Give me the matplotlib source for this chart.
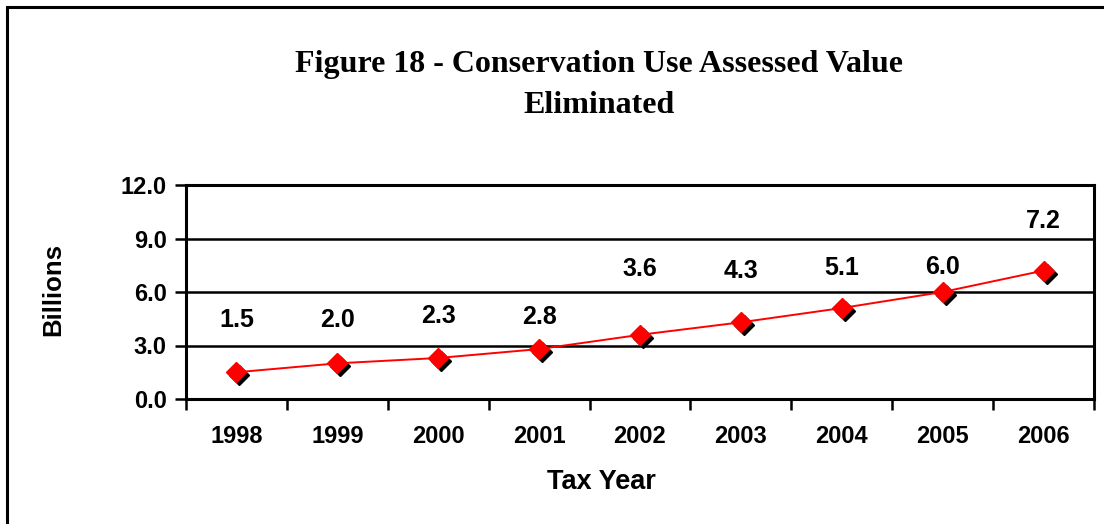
import matplotlib.pyplot as plt
import matplotlib.transforms as mtransforms
from matplotlib.patches import Rectangle

# Figure 18 data
years = ["1998", "1999", "2000", "2001", "2002", "2003", "2004", "2005", "2006"]
values = [1.5, 2.0, 2.3, 2.8, 3.6, 4.3, 5.1, 6.0, 7.2]
# heights (in Billions) at which the value labels sit
label_y = [4.45, 4.45, 4.65, 4.6, 7.3, 7.2, 7.35, 7.4, 10.0]

SANS = "Liberation Sans"
SERIF = "Liberation Serif"

fig = plt.figure(figsize=(11.04, 5.24), dpi=100)
W, H = 1104, 524

# outer chart border (only left/top visible in the picture)
fig.patches.append(Rectangle((7 / W, -0.1), 1.2, (H - 7) / H + 0.1, transform=fig.transFigure,
                             fill=False, edgecolor="black", linewidth=2.2))

ax = fig.add_axes([186 / W, 1 - 399 / H, (1094 - 186) / W, (399 - 185) / H])
x = list(range(len(years)))

# shadow then red diamond on top
shadow = ax.transData + mtransforms.ScaledTranslation(3 / 100, -3 / 100, fig.dpi_scale_trans)
ax.plot(x, values, linestyle="none", marker="D", markersize=10, color="black", transform=shadow, zorder=3)
ax.plot(x, values, color="#ff0000", linewidth=1.4, marker="D", markersize=10,
        markerfacecolor="#ff0000", markeredgecolor="#ff0000", zorder=4)

for xi, v, ly in zip(x, values, label_y):
    ax.text(xi, ly, f"{v:.1f}", ha="center", va="center", fontsize=18,
            fontweight="bold", family=SANS)

ax.set_xlim(-0.5, len(years) - 0.5)
ax.set_ylim(0, 12)
ax.set_yticks([0, 3, 6, 9, 12])
ax.set_yticklabels([f"{t:.1f}" for t in [0, 3, 6, 9, 12]], fontsize=17, fontweight="bold", family=SANS)
ax.yaxis.grid(True, color="black", linewidth=1.8)
ax.set_axisbelow(True)

# category ticks sit between years, labels centred on years
ax.set_xticks([i + 0.5 for i in range(-1, len(years))])
ax.set_xticklabels([])
ax.set_xticks(x, minor=True)
ax.set_xticklabels(years, minor=True, fontsize=17, fontweight="bold", family=SANS)
ax.tick_params(axis="x", which="minor", length=0, pad=19)
ax.tick_params(axis="x", which="major", length=8, width=1.8, direction="out")
ax.tick_params(axis="y", length=8, width=1.8, direction="out", pad=6)

for s in ax.spines.values():
    s.set_linewidth(2.2)

fig.text(601 / W, 1 - 482 / H, "Tax Year", ha="center", va="center",
         fontsize=19.5, fontweight="bold", family=SANS)
fig.text(53 / W, 1 - 290 / H, "Billions", rotation=90, ha="center", va="center",
         fontsize=18.5, fontweight="bold", family=SANS)

fig.text(599 / W, 1 - 85 / H, "Figure 18 - Conservation Use Assessed Value\nEliminated",
         ha="center", va="center", fontsize=23, fontweight="bold", family=SERIF,
         linespacing=1.55)

fig.savefig("out.png", dpi=100)
